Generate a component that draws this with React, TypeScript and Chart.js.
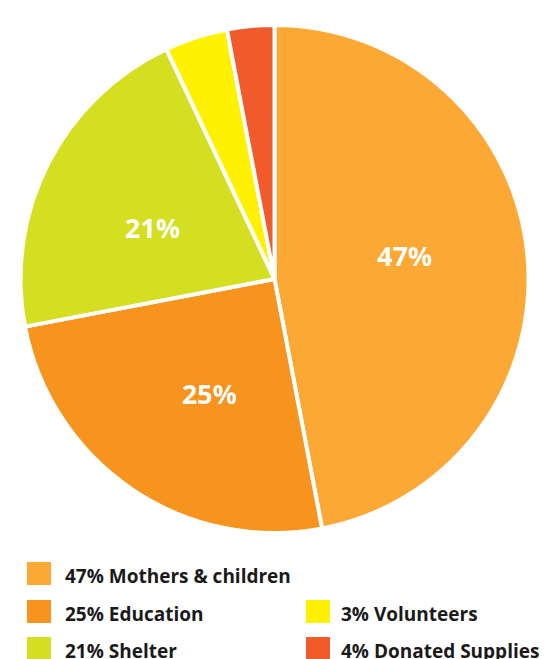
import React, { useEffect, useRef } from "react";
import { Chart, registerables } from "chart.js";

Chart.register(...registerables);

const categories = ["Mothers & children", "Education", "Shelter", "Volunteers", "Donated Supplies"];
const sliceValues = [47, 25, 21, 4, 3];
const sliceColors = ["#FBA834", "#F7941E", "#D5DF22", "#FFF200", "#F15A2B"];
const sliceLabels = ["47%", "25%", "21%", "", ""];
const legendTexts = ["47% Mothers & children", "25% Education", "21% Shelter", "3% Volunteers", "4% Donated Supplies"];

const sliceLabelPlugin = {
  id: "sliceLabels",
  afterDatasetsDraw(chart: any) {
    const ctx = chart.ctx;
    const meta = chart.getDatasetMeta(0);
    ctx.save();
    ctx.fillStyle = "#ffffff";
    ctx.font = "bold 27px 'Open Sans', sans-serif";
    ctx.textAlign = "center";
    ctx.textBaseline = "middle";
    meta.data.forEach((arc: any, i: number) => {
      const text = sliceLabels[i];
      if (!text) return;
      const { x, y, startAngle, endAngle, outerRadius } = arc.getProps(
        ["x", "y", "startAngle", "endAngle", "outerRadius"],
        true
      );
      const mid = (startAngle + endAngle) / 2 - 0.08;
      const r = outerRadius * 0.52;
      ctx.fillText(text, x + Math.cos(mid) * r, y + Math.sin(mid) * r + 2);
    });
    ctx.restore();
  },
};

function LegendItem({ color, text, left, top, gap }: { color: string; text: string; left: number; top: number; gap: number }) {
  return (
    <div style={{ position: "absolute", left, top, height: 23, display: "flex", alignItems: "center" }}>
      <div style={{ width: 24, height: 23, background: color, marginRight: gap, flex: "none" }} />
      <span
        style={{
          position: "relative",
          top: 2,
          fontFamily: "'Open Sans', sans-serif",
          fontWeight: 700,
          fontSize: 19,
          color: "#1a1a1a",
          whiteSpace: "nowrap",
        }}
      >
        {text}
      </span>
    </div>
  );
}

export default function App() {
  const canvasRef = useRef<HTMLCanvasElement | null>(null);

  useEffect(() => {
    if (!canvasRef.current) return;
    const chart = new Chart(canvasRef.current, {
      type: "pie",
      data: {
        labels: categories,
        datasets: [
          {
            data: sliceValues,
            backgroundColor: sliceColors,
            borderColor: "#ffffff",
            borderWidth: 4,
          },
        ],
      },
      options: {
        responsive: false,
        animation: false,
        layout: { padding: { top: 23, bottom: 23, left: 0, right: 0 } },
        plugins: {
          legend: { display: false },
          tooltip: { enabled: false },
        },
      },
      plugins: [sliceLabelPlugin],
    });
    return () => chart.destroy();
  }, []);

  return (
    <div style={{ position: "absolute", left: 0, top: 0, width: 556, height: 659, background: "#ffffff", overflow: "hidden" }}>
      <canvas ref={canvasRef} width={549} height={558} style={{ position: "absolute", left: 0, top: 0, width: 549, height: 558 }} />
      <LegendItem color={sliceColors[0]} text={legendTexts[0]} left={27} top={562} gap={14} />
      <LegendItem color={sliceColors[1]} text={legendTexts[1]} left={27} top={600} gap={14} />
      <LegendItem color={sliceColors[2]} text={legendTexts[2]} left={27} top={637} gap={14} />
      <LegendItem color={sliceColors[3]} text={legendTexts[3]} left={306} top={600} gap={11} />
      <LegendItem color={sliceColors[4]} text={legendTexts[4]} left={306} top={637} gap={11} />
    </div>
  );
}
